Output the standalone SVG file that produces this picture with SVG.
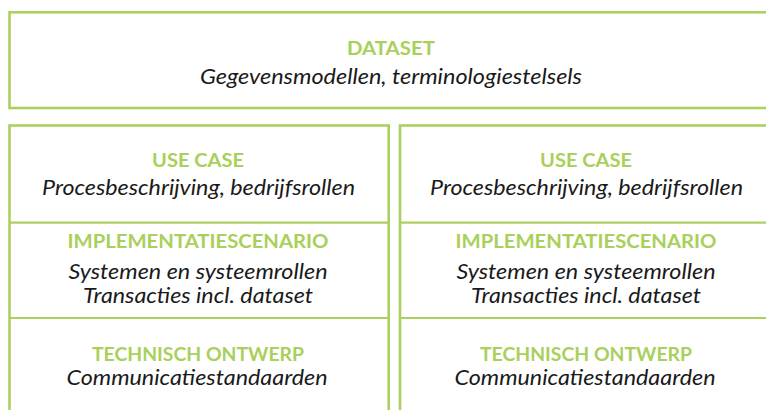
<svg xmlns="http://www.w3.org/2000/svg" width="766" height="410" viewBox="0 0 766 410">
<style>
.box{fill:#FFFFFF;stroke:#ACD060;stroke-width:2.6}
.div{stroke:#ACD060;stroke-width:2.2;fill:none}
.h{font-family:Lato,"Open Sans","Liberation Sans",sans-serif;font-weight:bold;font-size:18.5px;fill:#A8D05A;text-anchor:middle}
.t{font-family:Lato,"Open Sans","Liberation Sans",sans-serif;font-style:italic;font-size:21px;fill:#1A1A1A;text-anchor:middle}
</style>
<rect width="766" height="410" fill="#FFFFFF"/>
<g id="dataset">
<rect class="box" x="9.5" y="12.3" width="765" height="95.7"/>
<text class="h" x="391" y="55" textLength="88" lengthAdjust="spacingAndGlyphs">DATASET</text>
<text class="t" x="391" y="83.5" textLength="382" lengthAdjust="spacingAndGlyphs">Gegevensmodellen, terminologiestelsels</text>
</g>
<g id="column-left">
<rect class="box" x="9.5" y="125.5" width="379.2" height="300"/>
</g>
<g id="column-right">
<rect class="box" x="400" y="125.5" width="380" height="300"/>
</g>
<g id="connectors">
<line class="div" x1="9.5" y1="222.7" x2="388.7" y2="222.7"/>
<line class="div" x1="9.5" y1="318" x2="388.7" y2="318"/>
<line class="div" x1="400" y1="222.7" x2="780" y2="222.7"/>
<line class="div" x1="400" y1="318" x2="780" y2="318"/>
</g>
<g id="usecase-left">
<text class="h" x="198" y="166.7" textLength="92" lengthAdjust="spacingAndGlyphs">USE CASE</text>
<text class="t" x="198.5" y="195" textLength="313" lengthAdjust="spacingAndGlyphs">Procesbeschrijving, bedrijfsrollen</text>
</g>
<g id="impl-left">
<text class="h" x="198" y="247.5" textLength="261" lengthAdjust="spacingAndGlyphs">IMPLEMENTATIESCENARIO</text>
<text class="t" x="198" y="278.5" textLength="259" lengthAdjust="spacingAndGlyphs">Systemen en systeemrollen</text>
<text class="t" x="198" y="302.5" textLength="230" lengthAdjust="spacingAndGlyphs">Transacties incl. dataset</text>
</g>
<g id="tech-left">
<text class="h" x="198" y="360.5" textLength="212" lengthAdjust="spacingAndGlyphs">TECHNISCH ONTWERP</text>
<text class="t" x="197" y="385" textLength="261" lengthAdjust="spacingAndGlyphs">Communicatiestandaarden</text>
</g>
<g id="usecase-right">
<text class="h" x="586" y="166.7" textLength="92" lengthAdjust="spacingAndGlyphs">USE CASE</text>
<text class="t" x="586.5" y="195" textLength="313" lengthAdjust="spacingAndGlyphs">Procesbeschrijving, bedrijfsrollen</text>
</g>
<g id="impl-right">
<text class="h" x="586" y="247.5" textLength="261" lengthAdjust="spacingAndGlyphs">IMPLEMENTATIESCENARIO</text>
<text class="t" x="586" y="278.5" textLength="259" lengthAdjust="spacingAndGlyphs">Systemen en systeemrollen</text>
<text class="t" x="586" y="302.5" textLength="230" lengthAdjust="spacingAndGlyphs">Transacties incl. dataset</text>
</g>
<g id="tech-right">
<text class="h" x="586" y="360.5" textLength="212" lengthAdjust="spacingAndGlyphs">TECHNISCH ONTWERP</text>
<text class="t" x="585" y="385" textLength="261" lengthAdjust="spacingAndGlyphs">Communicatiestandaarden</text>
</g>
</svg>
